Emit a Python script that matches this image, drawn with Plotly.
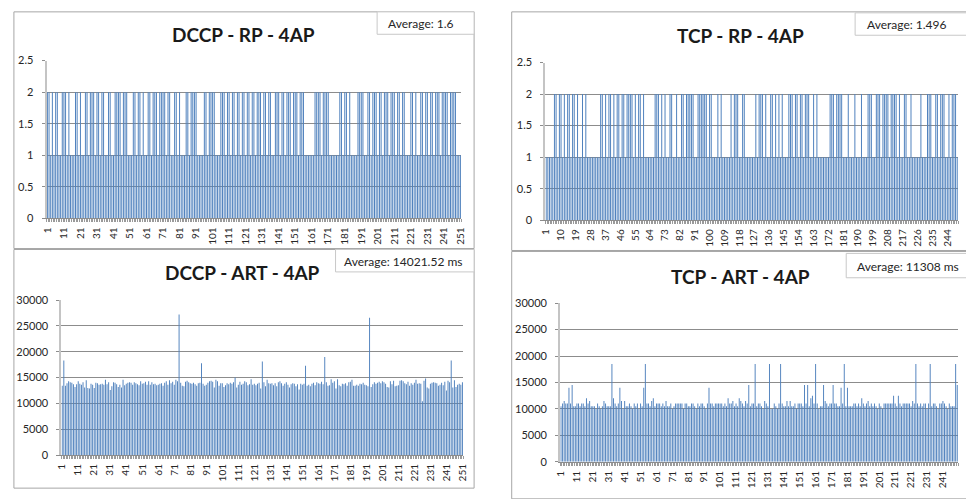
import plotly.graph_objects as go

W, H = 966, 499

# ---------------- data ----------------
dccp_rp = [
    2, 2, 1, 2, 1, 2, 2, 1, 1, 2,
    2, 2, 1, 2, 1, 1, 1, 2, 2, 1,
    2, 1, 1, 2, 2, 1, 2, 2, 2, 1,
    2, 2, 1, 2, 2, 1, 1, 2, 2, 1,
    1, 2, 2, 2, 2, 1, 2, 2, 2, 1,
    1, 1, 2, 2, 1, 2, 2, 1, 2, 1,
    1, 2, 2, 1, 2, 2, 2, 1, 2, 2,
    2, 2, 1, 2, 2, 1, 1, 2, 2, 1,
    2, 1, 1, 1, 2, 2, 1, 2, 2, 2,
    2, 1, 1, 1, 1, 2, 2, 1, 2, 2,
    2, 2, 1, 1, 1, 2, 2, 2, 1, 2,
    2, 1, 2, 2, 1, 2, 2, 1, 2, 2,
    1, 2, 2, 1, 2, 2, 1, 2, 2, 2,
    1, 2, 2, 1, 2, 2, 1, 1, 2, 2,
    2, 1, 2, 2, 1, 2, 2, 2, 1, 2,
    2, 2, 1, 2, 2, 2, 1, 1, 1, 1,
    1, 1, 2, 2, 2, 2, 1, 2, 2, 2,
    2, 1, 1, 1, 1, 1, 1, 2, 2, 1,
    2, 2, 1, 2, 1, 1, 1, 1, 2, 2,
    2, 2, 1, 1, 2, 2, 1, 2, 2, 2,
    1, 2, 2, 1, 2, 2, 2, 1, 2, 2,
    2, 1, 2, 2, 1, 2, 2, 1, 1, 1,
    2, 2, 1, 2, 1, 1, 2, 2, 1, 2,
    2, 1, 2, 2, 1, 2, 2, 2, 1, 2,
    2, 2, 2, 1, 2, 2, 2, 2, 1, 1,
    1,
]

tcp_rp = [
    1, 1, 1, 1, 1, 2, 2, 1, 2, 2,
    1, 2, 1, 2, 2, 1, 2, 2, 1, 2,
    1, 1, 2, 1, 2, 1, 1, 1, 1, 1,
    1, 1, 1, 2, 2, 1, 2, 1, 2, 2,
    1, 2, 1, 2, 2, 1, 2, 2, 1, 2,
    2, 2, 2, 1, 2, 1, 2, 2, 1, 2,
    1, 1, 1, 1, 1, 1, 2, 2, 2, 1,
    2, 1, 2, 1, 1, 2, 2, 1, 1, 2,
    1, 1, 2, 2, 1, 2, 2, 2, 2, 2,
    1, 1, 2, 2, 2, 2, 2, 2, 1, 2,
    2, 1, 1, 1, 2, 1, 2, 1, 1, 1,
    1, 1, 2, 1, 2, 2, 2, 1, 1, 2,
    2, 1, 1, 1, 1, 1, 1, 2, 1, 2,
    2, 2, 1, 2, 1, 1, 2, 2, 1, 2,
    1, 2, 1, 2, 1, 1, 1, 2, 2, 2,
    1, 2, 2, 1, 2, 2, 1, 2, 2, 2,
    1, 1, 2, 1, 2, 1, 1, 1, 1, 1,
    1, 1, 2, 2, 2, 1, 2, 2, 2, 2,
    1, 1, 1, 2, 1, 1, 1, 2, 1, 1,
    1, 2, 1, 1, 1, 2, 2, 2, 1, 1,
    2, 2, 2, 1, 2, 2, 2, 2, 1, 2,
    2, 2, 2, 1, 2, 1, 1, 2, 2, 1,
    1, 2, 1, 1, 1, 1, 1, 2, 1, 1,
    1, 2, 2, 2, 1, 1, 2, 2, 1, 2,
    2, 2, 1, 1, 2, 1, 2, 2, 2, 1,
]

dccp_art = [
    13400, 18300, 13400, 13900, 14300, 14100, 14000, 13700, 13200, 13700,
    14300, 13800, 13600, 14100, 13100, 14500, 13000, 12900, 13800, 13600,
    13000, 14000, 13900, 13600, 13700, 13800, 13600, 14600, 13700, 14100,
    12600, 13300, 14100, 14000, 13700, 13200, 13600, 13100, 14600, 13500,
    13800, 14000, 14100, 14000, 13600, 14100, 13900, 13700, 13500, 14300,
    13800, 13900, 14200, 13600, 14300, 13600, 14100, 13700, 13800, 13500,
    13600, 13800, 13900, 13400, 14000, 14300, 13600, 14500, 13900, 14200,
    13600, 14600, 14300, 27200, 14000, 13400, 13300, 14200, 14400, 14100,
    13900, 13800, 14000, 13700, 13400, 13900, 14000, 17800, 13800, 13400,
    13600, 14000, 14300, 14400, 14200, 13100, 14600, 14300, 13400, 13900,
    13900, 13200, 13500, 13900, 13700, 14000, 13800, 14100, 15000, 13100,
    13600, 14200, 13600, 13800, 14300, 14100, 13500, 13700, 14700, 13600,
    13800, 13500, 13800, 14000, 12900, 18100, 14100, 13300, 14600, 13900,
    13800, 13900, 13500, 13900, 13300, 14100, 14300, 13900, 13400, 13800,
    14100, 13600, 13100, 13700, 13900, 13800, 13300, 13700, 12700, 13800,
    13600, 13800, 17300, 13400, 13600, 13300, 13800, 14000, 13500, 14100,
    13900, 13800, 14200, 13700, 19000, 14100, 13400, 13500, 14700, 14000,
    14300, 12900, 14700, 13500, 13300, 13800, 13700, 13900, 13400, 14100,
    14200, 14600, 13400, 13400, 13600, 13400, 13800, 13700, 14000, 13600,
    13500, 13300, 26600, 13200, 13700, 14100, 13800, 14000, 14200, 13900,
    14300, 14100, 13800, 13200, 13100, 14300, 13700, 14400, 13300, 13400,
    13500, 14400, 14500, 14300, 13900, 13700, 14200, 13400, 13900, 13600,
    14000, 14600, 13800, 13900, 13800, 10400, 14400, 14800, 13100, 12900,
    13800, 14000, 14100, 14000, 13900, 13400, 13600, 14000, 13500, 14200,
    12500, 14400, 14100, 18300, 13100, 14500, 13200, 13600, 13800, 13600,
    14100,
]

tcp_art = [
    10500, 11000, 11500, 11000, 11000, 14000, 11000, 14500, 10500, 10500,
    11000, 11000, 10500, 11000, 11000, 10500, 12000, 11000, 11500, 10500,
    10500, 10500, 10000, 11000, 10500, 10000, 10500, 11500, 11000, 10500,
    10500, 10500, 18500, 12000, 11000, 10500, 11000, 14000, 11500, 10000,
    11500, 10500, 10500, 11000, 10500, 10000, 11000, 10500, 11000, 10000,
    11000, 10500, 14000, 18500, 11000, 11000, 10500, 11500, 12000, 10500,
    11000, 11000, 11000, 10500, 11000, 10500, 11500, 10500, 10500, 11000,
    10000, 10500, 11000, 11000, 11000, 11000, 11000, 10000, 11000, 11000,
    10500, 10500, 11000, 11000, 10500, 10000, 11000, 10500, 11000, 11000,
    10500, 10000, 11000, 14000, 11000, 11000, 10500, 11000, 11000, 11000,
    11000, 11000, 10500, 11000, 10500, 12000, 11000, 11000, 11500, 10500,
    11000, 10500, 12000, 11500, 11000, 10500, 11500, 11000, 14500, 10500,
    11000, 11000, 18500, 10500, 11000, 11000, 10500, 10000, 11500, 11000,
    10500, 18500, 10000, 10000, 11000, 10500, 10000, 11000, 18500, 11000,
    10500, 10500, 11500, 10500, 11500, 10500, 10500, 11000, 10000, 11000,
    11000, 11000, 10500, 14500, 11000, 14500, 10500, 12000, 12500, 11000,
    18500, 11000, 10000, 10500, 10500, 14500, 11500, 11000, 10500, 11000,
    11000, 14500, 11000, 11000, 10500, 10500, 14000, 11000, 18500, 10500,
    14000, 10500, 10500, 10500, 11000, 11000, 10500, 11000, 10500, 12000,
    11000, 10500, 11000, 11500, 10500, 11000, 10500, 11000, 10500, 10000,
    11000, 10500, 10000, 11000, 11000, 11000, 11000, 11000, 11000, 12500,
    11000, 10500, 12500, 11000, 10500, 11000, 11000, 11000, 11000, 11000,
    10500, 11500, 11000, 18500, 11000, 10500, 11000, 10500, 11000, 11000,
    10000, 11000, 18500, 10500, 11000, 11000, 10500, 10000, 11000, 11000,
    11500, 11000, 10500, 10000, 11000, 10500, 10500, 10500, 18500, 14500,
]

titles = ["DCCP - RP - 4AP", "TCP - RP - 4AP", "DCCP - ART - 4AP", "TCP - ART - 4AP"]
averages = ["Average: 1.6", "Average: 1.496", "Average: 14021.52 ms", "Average: 11308 ms"]
dccp_xticks = list(range(1, 252, 10))
tcp_rp_xticks = list(range(1, 251, 9))
tcp_art_xticks = list(range(1, 251, 10))
rp_yticks = [0, 0.5, 1, 1.5, 2, 2.5]
art_yticks = [0, 5000, 10000, 15000, 20000, 25000, 30000]

# ---------------- layout helpers ----------------
def fx(p):
    return p / W

def fy(p):
    return 1 - p / H

FONT = "Lato, 'Open Sans', sans-serif"
BAR = "#4F81BD"
GRID = "#8c8c8c"
TXT = "#262626"

panels = [
    dict(vals=dccp_rp, xt=dccp_xticks, yt=rp_yticks, area=(41, 460, 55, 217),
         border=(8, 473, 5, 248), title_c=(240, 28),
         avg_box=(375, 473, 5, 28), avg_txt=(384, 17)),
    dict(vals=tcp_rp, xt=tcp_rp_xticks, yt=rp_yticks, area=(545, 962, 57, 219),
         border=(511, 975, 5, 250), title_c=(742, 29),
         avg_box=(858, 975, 6, 29), avg_txt=(868, 18)),
    dict(vals=dccp_art, xt=dccp_xticks, yt=art_yticks, area=(56, 462, 301, 460),
         border=(8, 473, 249, 494), title_c=(239, 273),
         avg_box=(333, 473, 249, 272), avg_txt=(340, 261)),
    dict(vals=tcp_art, xt=tcp_art_xticks, yt=art_yticks, area=(560, 962, 304, 467),
         border=(511, 975, 251, 505), title_c=(742, 277),
         avg_box=(849, 975, 253, 278), avg_txt=(858, 266)),
]

fig = go.Figure()
shapes = []
annotations = []
layout_axes = {}

for i, p in enumerate(panels):
    k = "" if i == 0 else str(i + 1)
    n = len(p["vals"])
    fig.add_trace(go.Bar(
        x=list(range(1, n + 1)), y=p["vals"],
        marker=dict(color=BAR, line=dict(width=0)),
        xaxis="x" + k, yaxis="y" + k, showlegend=False, hoverinfo="x+y",
    ))
    x0, x1, y0, y1 = p["area"]
    layout_axes["xaxis" + k] = dict(
        domain=[fx(x0), fx(x1)], anchor="y" + k,
        range=[0.5, n + 0.5], tickmode="array",
        tickvals=p["xt"], ticktext=[str(v) for v in p["xt"]],
        tickangle=-90, tickfont=dict(family=FONT, size=10, color=TXT),
        showgrid=False, zeroline=False,
        showline=True, linecolor=GRID, linewidth=1,
        ticks="", ticklabelstandoff=4,
        minor=dict(ticks="outside", ticklen=3, tick0=0.5, dtick=1,
                   tickcolor="#9a9a9a", tickwidth=1, showgrid=False),
        fixedrange=True,
    )
    yt = p["yt"]
    layout_axes["yaxis" + k] = dict(
        domain=[fy(y1), fy(y0)], anchor="x" + k,
        range=[0, yt[-1]], tickmode="array", tickvals=yt,
        ticktext=[("%g" % v) for v in yt],
        tickfont=dict(family=FONT, size=11, color=TXT),
        showgrid=True, gridcolor=GRID, gridwidth=1, zeroline=False,
        showline=True, linecolor="#c4c4c4", linewidth=2,
        ticks="outside", ticklen=3, tickcolor=GRID,
        ticklabelstandoff=6,
        fixedrange=True,
    )
    # panel border
    bx0, bx1, by0, by1 = p["border"]
    shapes.append(dict(type="rect", xref="paper", yref="paper",
                       x0=fx(bx0), x1=fx(bx1), y0=fy(by1), y1=fy(by0),
                       line=dict(color="#a6a6a6", width=1), layer="below"))
    # average box
    ax0, ax1, ay0, ay1 = p["avg_box"]
    shapes.append(dict(type="rect", xref="paper", yref="paper",
                       x0=fx(ax0), x1=fx(ax1), y0=fy(ay1), y1=fy(ay0),
                       line=dict(color="#c8c8c8", width=1), fillcolor="white",
                       layer="above"))
    tx, ty = p["avg_txt"]
    annotations.append(dict(text=averages[i], xref="paper", yref="paper",
                            x=fx(tx), y=fy(ty), xanchor="left", yanchor="middle",
                            showarrow=False,
                            font=dict(family=FONT, size=12, color=TXT)))
    cx, cy = p["title_c"]
    annotations.append(dict(text="<b>" + titles[i] + "</b>", xref="paper", yref="paper",
                            x=fx(cx), y=fy(cy), xanchor="center", yanchor="middle",
                            showarrow=False,
                            font=dict(family=FONT, size=19, color="#1a1a1a")))

fig.update_layout(
    width=W, height=H, autosize=False,
    margin=dict(l=0, r=0, t=0, b=0),
    paper_bgcolor="white", plot_bgcolor="white",
    bargap=0.4, shapes=shapes, annotations=annotations,
    **layout_axes,
)

fig.write_html("out.html", config={"displayModeBar": False, "staticPlot": True},
               post_script="document.body.style.margin='0';document.documentElement.style.overflow='hidden';")
